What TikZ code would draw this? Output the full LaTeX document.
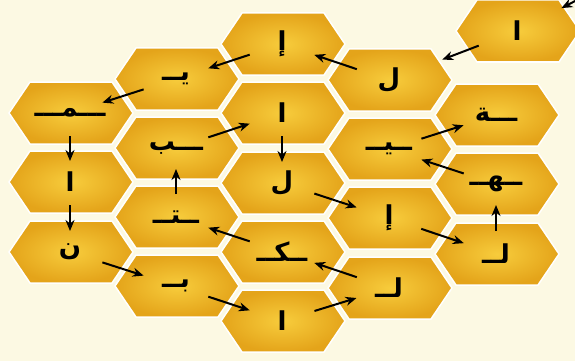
\documentclass[tikz,border=0pt]{standalone}
\usepackage{fontspec}
\usepackage{xcolor}
\usepackage{tikz}
\usetikzlibrary{arrows.meta,calc}
\newfontfamily\arabicfont[Script=Arabic]{DejaVu Sans}
\TeXXeTstate=1
\definecolor{paper}{HTML}{FCF9E3}
\definecolor{honeyin}{HTML}{F7CC3C}
\definecolor{honeyout}{HTML}{E4A41A}

\tikzset{
  cell/.style={draw=white,line width=1.5pt,inner color=honeyin,outer color=honeyout},
  letter/.style={font=\arabicfont\bfseries\fontsize{26}{28}\selectfont,inner sep=0pt},
  arr/.style={-{Stealth[length=11pt,width=9pt]},line width=2pt},
  slant/.style={arr,shorten <=34pt,shorten >=34pt},
  vstep/.style={arr,shorten <=23pt,shorten >=21pt}
}

\begin{document}
\begin{tikzpicture}[x=1pt,y=-1pt]
\fill[paper] (0,0) rectangle (575,361);
\useasboundingbox (0,0) rectangle (575,361);
\clip (0,0) rectangle (575,361);
% honeycomb cells, one letter each
\foreach \x/\y/\ch/\n in {517/31/ا/l1, 282/44/إ/l2, 389/80/ل/l3, 176/79/يــ/l4,
    70/113/ـــمـــ/l5, 282/113/ا/l6, 176/148/ـــب/l7, 496/115/ـــة/l8,
    389/149/ــيــ/l9, 70/182/ا/l10, 282/183/ل/l11, 496/184/ــهــ/l12,
    176/217/ــتــ/l13, 389/218/إ/l14, 282/252/ــكــ/l15, 70/252/ن/l16,
    496/254/لــ/l17, 176/286/بــ/l18, 389/288/لــ/l19, 282/321/ا/l20}{
  \shade[cell] (\x-61,\y) -- ++(21,-31) -- ++(82,0) -- ++(21,31) -- ++(-21,31) -- ++(-82,0) -- cycle;
  \node[letter] (\n) at (\x,\y) {\beginR\ch\endR};
}
% reading order
\coordinate (start) at (612,-18);
\draw[arr,shorten >=50pt] (start) -- (l1.center);
\draw[arr,shorten <=41pt,shorten >=57pt] (l1.center) -- (l3.center);
\foreach \a/\b in {l3/l2,l2/l4,l4/l5,l16/l18,l18/l20,l20/l19,l19/l15,l15/l13,l7/l6,l11/l14,l14/l17,l12/l9,l9/l8}
  \draw[slant] (\a.center) -- (\b.center);
\foreach \a/\b in {l5/l10,l10/l16,l13/l7,l6/l11,l17/l12}
  \draw[vstep] (\a.center) -- (\b.center);
\end{tikzpicture}
\end{document}
